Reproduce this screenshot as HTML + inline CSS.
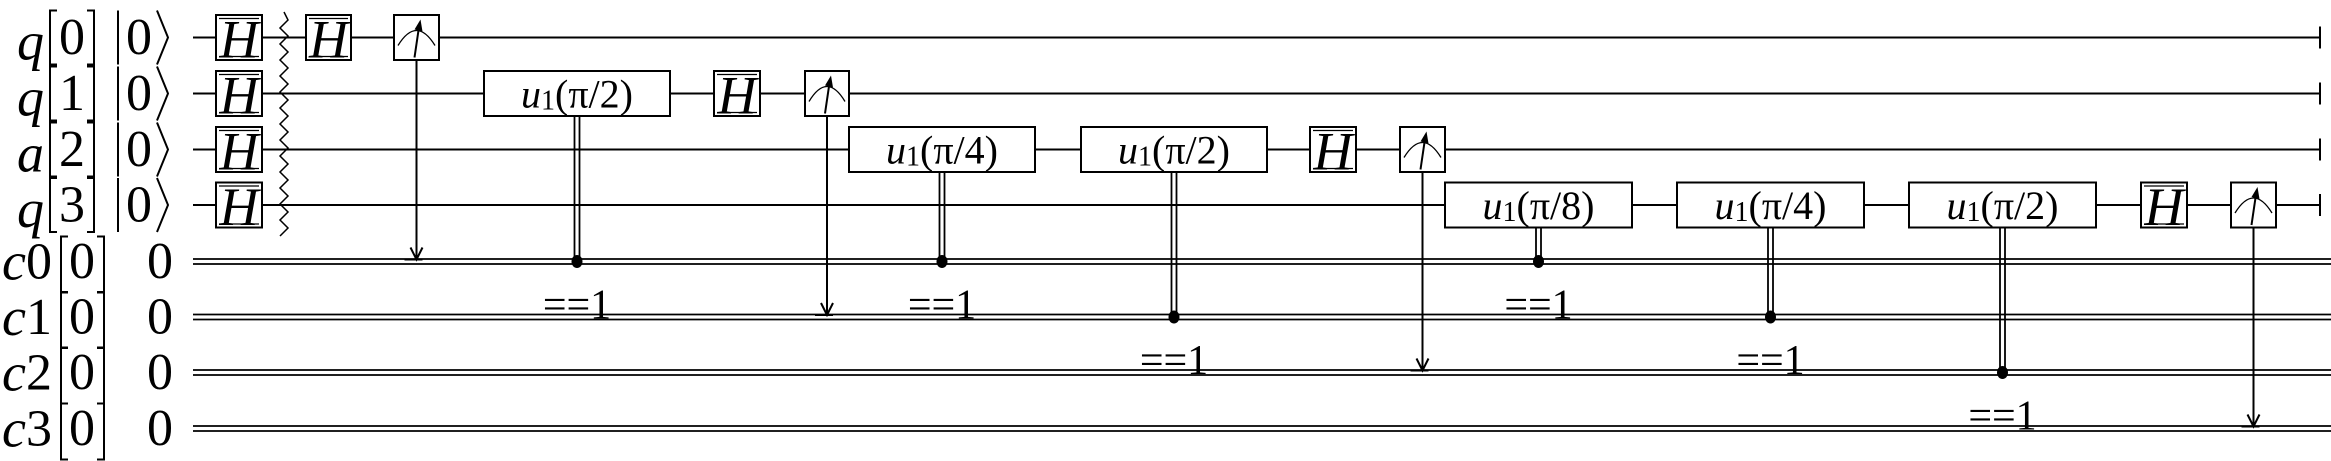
<!DOCTYPE html>
<html><head><meta charset="utf-8"><style>
html,body{margin:0;padding:0;background:#fff;}
svg{display:block;}
text{font-family:"Liberation Serif",serif;fill:#000;}
</style></head><body>
<svg id="c" width="2331" height="461" viewBox="0 0 2331 461" xmlns="http://www.w3.org/2000/svg"></svg>
<script>
const qWireY=[37.5,93.5,149.5,205];
const cWireY=[261.5,317,372.5,428.5];
const qNames=['q','q','a','q'];
const qIdx=['0','1','2','3'];
const cNames=['c0','c1','c2','c3'];
// gates: [wire, x-left, x-right]
const hGates=[[0,216,262],[1,216,262],[2,216,262],[3,216,262],[0,306,351],[1,714,760],[2,1310,1356],[3,2141,2187]];
const meters=[[0,394,439,0],[1,805,849,1],[2,1400,1445,2],[3,2231,2276,3]];
const uGates=[[1,484,670,'π/2',0],[2,849,1035,'π/4',0],[2,1081,1267,'π/2',1],[3,1445,1632,'π/8',0],[3,1677,1864,'π/4',1],[3,1909,2096,'π/2',2]];
const NS='http://www.w3.org/2000/svg';
const svg=document.getElementById('c');
function mk(tag,attrs,name,parent){const e=document.createElementNS(NS,tag);for(const k in attrs)e.setAttribute(k,attrs[k]);


(parent||svg).appendChild(e);return e;}
function txt(x,y,s,size,name,anchor,italic){const t=mk('text',{x:x,y:y,'font-size':size,'text-anchor':anchor||'middle','dominant-baseline':'central'},name);if(italic)t.setAttribute('font-style','italic');t.textContent=s;return t;}
function brackets(l,r,y,h,name){
  mk('path',{d:`M${l+7} ${y-h} L${l} ${y-h} L${l} ${y+h} L${l+7} ${y+h}`,fill:'none',stroke:'#000','stroke-width':2},name+'-open');
  mk('path',{d:`M${r-7} ${y-h} L${r} ${y-h} L${r} ${y+h} L${r-7} ${y+h}`,fill:'none',stroke:'#000','stroke-width':2},name+'-close');
}
// wires
qWireY.forEach((y,i)=>{
  mk('line',{x1:193,y1:y,x2:2320,y2:y,stroke:'#000','stroke-width':2},'qubit-wire');
  mk('line',{x1:2320,y1:y-11,x2:2320,y2:y+11,stroke:'#000','stroke-width':2},'wire-end-tick');
  txt(44,y+4,qNames[i],54,'qubit-label','end',true);
  brackets(50,94,y,27,'qubit-bracket');
  txt(72,y,qIdx[i],52,'qubit-index','middle');
  mk('line',{x1:118,y1:y-27,x2:118,y2:y+27,stroke:'#000','stroke-width':2},'ket-bar');
  txt(139,y,'0',52,'initial-state','middle');
  mk('path',{d:`M157 ${y-27} L168 ${y} L157 ${y+27}`,fill:'none',stroke:'#000','stroke-width':2},'ket-angle');
});
cWireY.forEach((y,i)=>{
  mk('line',{x1:193,y1:y-2.5,x2:2331,y2:y-2.5,stroke:'#000','stroke-width':1.8},'classical-wire');
  mk('line',{x1:193,y1:y+2.5,x2:2331,y2:y+2.5,stroke:'#000','stroke-width':1.8},'classical-wire');
  const t=txt(52,y,'',54,'classical-label','end',true);t.textContent=cNames[i][0];
  const t2=mk('tspan',{'font-style':'normal','font-size':52},'classical-index',t);t2.textContent=cNames[i][1];
  brackets(61,104,y+3,28,'classical-bracket');
  txt(82,y,'0',52,'classical-register-index','middle');
  txt(160,y,'0',52,'classical-initial','middle');
});
// barrier
let p='M284 12';for(let y=12,k=0;y<232;y+=8,k++){p+=' L'+(k%2?280:288)+' '+(y+8);}
mk('path',{d:p,fill:'none',stroke:'#000','stroke-width':1.5},'barrier');
// H gates
hGates.forEach(g=>{const y=qWireY[g[0]];
  mk('rect',{x:g[1],y:y-22.5,width:g[2]-g[1],height:45,fill:'#fff',stroke:'#000','stroke-width':2},'h-gate');
  mk('line',{x1:g[1]+3,y1:y-19,x2:g[2]-3,y2:y-19,stroke:'#000','stroke-width':1.2},'h-overline');
  mk('line',{x1:g[1]+3,y1:y+19,x2:g[2]-3,y2:y+19,stroke:'#000','stroke-width':1.2},'h-underline');
  txt((g[1]+g[2])/2,y+2,'H',54,'h-label','middle',true);
});
// meters
meters.forEach(m=>{const y=qWireY[m[0]],cx=(m[1]+m[2])/2,cy=cWireY[m[3]];
  mk('line',{x1:cx,y1:y+22,x2:cx,y2:cy-2,stroke:'#000','stroke-width':2},'measure-line');
  mk('path',{d:`M${cx-6} ${cy-14} L${cx} ${cy-2} L${cx+6} ${cy-14}`,fill:'none',stroke:'#000','stroke-width':2},'measure-arrowhead');
  mk('line',{x1:cx-12,y1:cy-2,x2:cx+6,y2:cy-2,stroke:'#000','stroke-width':2},'measure-foot');
  mk('rect',{x:m[1],y:y-22.5,width:m[2]-m[1],height:45,fill:'#fff',stroke:'#000','stroke-width':2},'measure-gate');
  mk('path',{d:`M${m[1]+4} ${y+8} Q${cx} ${y-22} ${m[2]-4} ${y+8}`,fill:'none',stroke:'#000','stroke-width':1.3},'meter-arc');
  mk('line',{x1:cx-2,y1:y+20,x2:cx+3,y2:y-14,stroke:'#000','stroke-width':2},'meter-needle');
  mk('path',{d:`M${cx-2} ${y-8} L${cx+4} ${y-18} L${cx+6} ${y-6} Z`,fill:'#000'},'meter-needle-head');
});
// u1 gates
uGates.forEach(g=>{const y=qWireY[g[0]],cx=(g[1]+g[2])/2,cy=cWireY[g[4]];
  mk('line',{x1:cx-2.5,y1:y+22,x2:cx-2.5,y2:cy,stroke:'#000','stroke-width':1.8},'control-wire');
  mk('line',{x1:cx+2.5,y1:y+22,x2:cx+2.5,y2:cy,stroke:'#000','stroke-width':1.8},'control-wire');
  mk('ellipse',{cx:cx,cy:cy,rx:5.5,ry:6.5,fill:'#000'},'control-dot');
  mk('rect',{x:g[1],y:y-22.5,width:g[2]-g[1],height:45,fill:'#fff',stroke:'#000','stroke-width':2},'u1-gate');
  const t=txt(cx,y,'',40,'u1-label','middle');
  const a=mk('tspan',{'font-style':'italic'},'u1-name',t);a.textContent='u';
  const b=mk('tspan',{'font-size':28,dy:7},'u1-subscript',t);b.textContent='1';
  const c=mk('tspan',{dy:-7},'u1-param',t);c.textContent='('+g[3]+')';
  txt(cx,cy+44,'==1',42,'condition-label','middle');
});
</script>
</body></html>
